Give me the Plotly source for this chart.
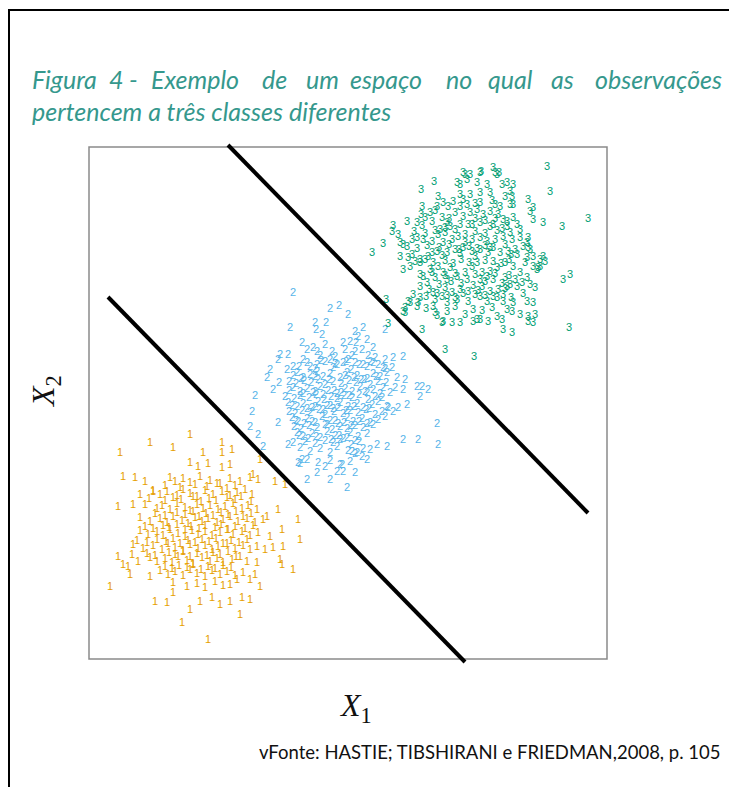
import plotly.graph_objects as go

W, H = 729, 787

# ---- observations (X1, X2) for the three classes ----
class1_x1 = [101, 61, 31, 84, 133, 133, 143, 114, 171, 34, 46, 56, 164, 169, 186, 196,
             29, 44, 51, 64, 189, 178, 209, 193, 211, 181, 194, 184, 176, 29, 43, 49,
             34, 39, 41, 21, 61, 204, 193, 191, 168, 166, 161, 171, 148, 141, 66, 78,
             84, 93, 101, 111, 123, 131, 141, 153, 161, 151, 119,
             101, 109, 119, 133, 141,
             81, 86, 94, 101, 111, 121, 131, 141, 151, 161,
             64, 71, 78, 88, 94, 101, 108, 116, 124, 133, 141, 148, 156, 163,
             56, 68, 73, 81, 88, 96, 101, 108, 114, 121, 129, 136, 144, 153, 159, 168,
             51, 61, 71, 78, 84, 93, 99, 106, 113, 119, 128, 134, 141, 149, 158, 166, 174,
             51, 59, 68, 74, 81, 89, 96, 103, 109, 116, 123, 131, 138, 144, 153, 161, 169,
             44, 54, 64, 73, 79, 86, 94, 101, 109, 116, 123, 129, 138, 146, 154, 161, 168,
             61, 68, 76, 83, 89, 98, 104, 113, 121, 128, 134, 143, 151, 158,
             71, 79, 86, 94, 101, 108, 116, 123, 131, 138, 146, 154,
             84, 98, 108, 116, 126, 134,
             76, 91, 106, 118, 128, 138, 146,
             60, 76, 84, 92, 104, 112, 120, 127, 138, 146, 152, 162,
             66, 76, 88, 96, 104, 110, 117, 124, 132, 139, 147, 154, 162,
             56, 64, 74, 80, 88, 96, 102, 110, 116, 126, 132, 139, 146, 156, 164,
             48, 58, 68, 77, 84, 91, 99, 106, 113, 120, 127, 134, 142, 150, 158,
             58, 66, 80, 86, 94, 101, 108, 118, 124, 131, 139, 147,
             76, 83, 90, 98, 104, 112, 119, 126, 134, 142]
class1_x2 = [224, 216, 206, 211, 216, 206, 209, 206, 199, 182, 181, 177, 184, 179, 177, 174,
             152, 154, 164, 167, 149, 142, 139, 129, 119, 122, 112, 111, 109, 102, 104, 97,
             94, 92, 84, 72, 82, 89, 94, 99, 96, 84, 79, 72, 79, 74, 57, 56,
             66, 36, 49, 57, 61, 54, 57, 61, 59, 44, 19,
             196, 192, 195, 191, 194,
             181, 177, 180, 176, 182, 178, 175, 180, 177, 181,
             168, 164, 167, 163, 169, 165, 162, 168, 164, 167, 163, 166, 169, 164,
             154, 150, 153, 149, 155, 151, 148, 154, 150, 153, 149, 152, 155, 150, 153, 149,
             141, 137, 140, 136, 142, 138, 135, 141, 137, 140, 136, 139, 142, 137, 140, 136, 139,
             128, 124, 127, 123, 129, 125, 122, 128, 124, 127, 123, 126, 129, 124, 127, 123, 126,
             114, 110, 113, 109, 115, 111, 108, 114, 110, 113, 109, 112, 115, 110, 113, 109, 112,
             101, 97, 100, 96, 102, 98, 95, 101, 97, 100, 96, 99, 102, 97,
             88, 84, 87, 83, 89, 85, 82, 88, 84, 87, 83, 86,
             76, 72, 75, 71, 77, 73,
             173, 171, 174, 172, 175, 170, 173,
             160, 158, 161, 159, 162, 157, 160, 158, 161, 159, 162, 157,
             145, 143, 146, 144, 147, 142, 145, 143, 146, 144, 147, 142, 145,
             132, 130, 133, 131, 134, 129, 132, 130, 133, 131, 134, 129, 132, 130, 133,
             118, 116, 119, 117, 120, 115, 118, 116, 119, 117, 120, 115, 118, 116, 119,
             105, 103, 106, 104, 107, 102, 105, 103, 106, 104, 107, 102,
             92, 90, 93, 91, 94, 89, 92, 90, 93, 91]

class2_x1 = [204, 241, 250, 259, 201, 226, 237, 227, 233, 266, 274, 269, 278, 296,
             213, 218, 224, 228, 236, 243, 254, 261, 267, 256, 266, 273, 284, 286, 296, 304, 314,
             191, 199, 189, 198, 204, 181, 178, 190, 184, 166, 163, 161, 169, 174, 189,
             214, 221, 228, 236, 241, 248, 254, 259, 266, 274, 281, 289, 294, 303,
             308, 316, 306, 314, 328, 333, 339, 331, 318, 309, 299, 304, 348, 329, 314, 349,
             298, 288, 281, 268, 263, 273, 278, 266, 258, 248, 254, 241, 253, 218, 209, 213,
             204, 199, 228, 236,
             208, 214, 221, 228, 234, 241, 251, 258, 268, 278, 284, 291, 298,
             204, 211, 218, 224, 231, 239, 248, 256, 263, 271, 278, 284, 294, 301,
             199, 208, 214, 223, 229, 238, 244, 251, 259, 268, 274, 283, 289, 298,
             203, 209, 218, 226, 233, 241, 249, 258, 264, 273, 281, 289, 296,
             208, 214, 223, 231, 238, 246, 254, 261, 269, 278,
             211, 221, 231, 241, 248, 259, 266, 274,
             211, 218, 229, 241, 251, 261,
             231, 246, 263, 279,
             210, 226, 244, 262, 278, 296,
             200, 207, 215, 222, 229, 236, 244, 252, 260, 267, 275, 281, 289, 297,
             196, 205, 211, 220, 227, 235, 242, 248, 255, 263, 270, 279, 286, 293,
             200, 206, 213, 221, 230, 236, 245, 254, 261, 269, 277, 286, 293,
             205, 212, 220, 228, 236, 243, 251, 258, 266, 274, 284,
             216, 226, 236, 244, 251, 262, 270,
             218, 232, 246, 257, 270, 284,
             204, 212, 226, 240, 256, 265, 272, 287,
             200, 214, 226, 234, 245, 252, 260, 276, 291,
             203, 218, 226, 234, 241, 249, 257, 265, 280,
             207, 215, 223, 238, 246, 255, 262, 270, 278,
             210, 219, 227, 242, 250, 258, 266]
class2_x2 = [366, 350, 353, 344, 331, 336, 336, 329, 324, 327, 331, 322, 319, 329,
             316, 309, 311, 307, 314, 307, 316, 317, 316, 309, 307, 309, 311, 301, 299, 301, 302,
             304, 304, 299, 289, 292, 289, 281, 276, 269, 263, 247, 232, 224, 212, 236,
             299, 292, 294, 297, 299, 294, 296, 299, 296, 294, 297, 294, 291, 291,
             281, 279, 271, 269, 272, 272, 269, 262, 254, 251, 251, 247, 235, 219, 219, 214,
             212, 214, 209, 206, 207, 202, 199, 186, 171, 187, 187, 179, 194, 179, 196, 199,
             216, 214, 186, 192,
             286, 281, 284, 287, 282, 285, 281, 286, 283, 280, 285, 282, 286,
             271, 267, 270, 266, 272, 268, 265, 270, 267, 272, 266, 269, 271, 266,
             256, 252, 255, 251, 257, 253, 250, 256, 252, 255, 251, 254, 257, 252,
             241, 237, 240, 236, 242, 238, 235, 241, 237, 240, 236, 239, 242,
             226, 222, 225, 221, 227, 223, 220, 226, 222, 225,
             211, 207, 210, 206, 212, 208, 205, 210,
             195, 199, 196, 198, 194, 197,
             303, 302, 303, 303,
             292, 290, 291, 289, 292, 290,
             277, 275, 278, 276, 279, 274, 277, 275, 278, 276, 279, 274, 277, 276,
             262, 260, 263, 261, 264, 259, 262, 260, 263, 261, 264, 259, 262, 261,
             247, 245, 248, 246, 249, 244, 247, 245, 248, 246, 249, 244, 247,
             232, 230, 233, 231, 234, 229, 232, 230, 233, 231, 234,
             217, 215, 218, 216, 219, 214, 217,
             296, 298, 295, 297, 294, 296,
             283, 280, 282, 279, 283, 281, 279, 282,
             268, 265, 267, 264, 268, 266, 263, 267, 265,
             253, 250, 252, 249, 253, 251, 248, 252, 250,
             238, 235, 237, 234, 238, 236, 233, 237, 235,
             223, 220, 222, 219, 223, 221, 218]

class3_x1 = [458, 461, 499, 473, 454, 444, 345, 332, 404, 406, 410, 392, 374, 283, 294,
             304, 303, 309, 318, 332, 474, 481, 480, 423, 414, 439, 446, 399, 384, 391,
             371, 363, 354, 333, 316, 321, 299, 346, 444, 454, 456, 451, 449, 439, 439,
             439, 444, 421, 423, 424, 418, 424,
             408, 376, 381, 391, 368, 413, 398, 388, 371, 378,
             349, 371, 381, 391, 401, 416, 348, 359, 354, 333, 371, 378, 391, 406, 411, 421, 441, 374,
             328, 341, 343, 353, 358, 366, 374, 381, 388, 394, 401, 409, 414, 424, 428, 431,
             351, 361, 371, 379, 391, 404, 418,
             311, 314, 323, 328, 334, 343, 349, 354, 363, 369, 376, 383, 391, 398, 406, 414, 423,
             431, 438, 441, 451, 311, 319, 331, 339, 348, 358, 366, 374, 383, 391, 401, 411, 419,
             428, 438,
             314, 321, 331, 341, 349, 354, 361, 368, 376, 383, 388, 393, 401, 408, 416, 424, 431,
             438, 444, 448, 334, 346, 358, 378, 391, 404, 416, 426,
             331, 344, 353, 363, 371, 379, 386, 393, 401, 409, 418, 428, 441, 446,
             319, 329, 346, 358, 368, 379, 391, 398, 408, 414, 424, 438, 444,
             316, 328, 348, 353, 376, 388, 408, 413, 423, 431, 439, 444, 344, 358, 384,
             331, 314, 356, 385, 297,
             325, 336, 346, 356, 366, 376, 386, 396, 408, 421,
             318, 328, 338, 350, 360, 370, 380, 388, 396, 404, 416, 426, 434,
             326, 336, 344, 356, 364, 372, 380, 396, 404, 412, 420, 436,
             338, 350, 362, 372, 384, 396, 413, 421, 433,
             324, 337, 348, 358, 366, 374, 396, 404, 414, 422, 434,
             336, 346, 360, 386, 396, 406, 418,
             337, 366, 393, 403, 418,
             364, 386, 403,
             333, 356, 383, 401, 413,
             323, 343, 353, 371, 386, 399, 422,
             331, 343, 356, 366, 386, 398, 406, 420,
             340, 356, 389, 416]
class3_x2 = [492, 467, 440, 432, 436, 439, 477, 469, 491, 486, 486, 487, 486, 406, 415,
             433, 427, 424, 437, 444, 379, 384, 331, 326, 329, 337, 344, 337, 337, 339,
             336, 336, 337, 329, 346, 356, 335, 346, 402, 402, 397, 392, 391, 421, 411,
             459, 451, 467, 462, 474, 476, 454,
             484, 484, 484, 486, 476, 474, 474, 476, 474, 479,
             462, 464, 464, 466, 466, 462, 452, 452, 456, 452, 452, 454, 456, 454, 452, 454, 447, 459,
             436, 446, 437, 441, 436, 446, 442, 446, 449, 444, 447, 444, 439, 441, 434, 429,
             429, 432, 434, 434, 436, 434, 432,
             416, 414, 419, 421, 419, 417, 424, 416, 419, 422, 416, 419, 421, 417, 419, 422, 419,
             421, 416, 409, 399, 402, 401, 399, 402, 407, 406, 409, 411, 407, 409, 411, 406, 407,
             404, 401,
             389, 392, 396, 389, 392, 386, 391, 382, 386, 392, 396, 386, 387, 391, 396, 392, 386,
             381, 392, 389, 382, 381, 379, 379, 379, 379, 381, 379,
             372, 366, 362, 366, 369, 367, 364, 372, 367, 369, 372, 372, 374, 371,
             357, 356, 359, 356, 359, 357, 362, 357, 361, 357, 356, 357, 356,
             351, 352, 343, 336, 344, 339, 342, 339, 347, 344, 342, 336, 352, 347, 349,
             361, 347, 309, 302, 359,
             427, 425, 428, 426, 429, 424, 427, 425, 428, 426,
             412, 410, 413, 411, 414, 409, 412, 410, 413, 411, 414, 409, 412,
             397, 399, 396, 398, 395, 399, 396, 398, 397, 395, 399, 396,
             376, 374, 377, 375, 373, 377, 375, 374, 376,
             364, 362, 365, 363, 361, 365, 363, 362, 364, 361, 365,
             441, 448, 440, 440, 438, 440, 437,
             350, 352, 348, 351, 349,
             457, 455, 458,
             433, 431, 434, 432, 430,
             404, 406, 403, 405, 402, 406, 404,
             384, 386, 383, 385, 384, 382, 385, 383,
             369, 371, 368, 370]

# ---- linear decision boundaries ----
upper_boundary_x1 = [139, 499]
upper_boundary_x2 = [514, 146]
lower_boundary_x1 = [19, 376]
lower_boundary_x2 = [362, -3]

class_labels = ["1", "2", "3"]
class_colors = ["#E69F00", "#56B4E9", "#009E73"]

fig = go.Figure()

classes = [(class1_x1, class1_x2), (class2_x1, class2_x2), (class3_x1, class3_x2)]
for (xs, ys), label, color in zip(classes, class_labels, class_colors):
    fig.add_trace(go.Scatter(
        x=xs, y=ys, mode="text", text=[label] * len(xs),
        textposition="middle center",
        textfont=dict(family="Liberation Sans", size=11, color=color),
        hoverinfo="skip", showlegend=False, cliponaxis=False,
    ))

for bx, by in [(upper_boundary_x1, upper_boundary_x2),
               (lower_boundary_x1, lower_boundary_x2)]:
    fig.add_trace(go.Scatter(
        x=bx, y=by, mode="lines",
        line=dict(color="black", width=4),
        hoverinfo="skip", showlegend=False,
    ))


def px(v):
    return v / W


def py(v):
    return 1 - v / H


# panel frame
fig.add_shape(type="rect", xref="x", yref="y", x0=0, y0=0, x1=518, y1=512,
              line=dict(color="#8a8a8a", width=1.5), layer="below")

# outer page frame (left and top rules)
fig.add_shape(type="line", xref="paper", yref="paper",
              x0=px(9), x1=px(9), y0=py(10), y1=py(787),
              line=dict(color="black", width=2))
fig.add_shape(type="line", xref="paper", yref="paper",
              x0=px(8), x1=px(729), y0=py(10), y1=py(10),
              line=dict(color="black", width=2))

title_color = "#35988D"
title_font = dict(family="Lato", size=25, color=title_color, style="italic")

line1_words = ["Figura", "4", "-", "Exemplo", "de", "um", "espaço", "no", "qual", "as", "observações"]
line1_left = [30, 107, 127, 149, 260, 304, 348, 444, 486, 549, 593]
for word, left in zip(line1_words, line1_left):
    fig.add_annotation(text=word, x=px(left), y=py(79), xref="paper", yref="paper",
                       xanchor="left", yanchor="middle", showarrow=False, font=title_font)

fig.add_annotation(text="pertencem a três classes diferentes", x=px(30), y=py(111),
                   xref="paper", yref="paper", xanchor="left", yanchor="middle",
                   showarrow=False, font=title_font)

# axis titles
fig.add_annotation(text="<i>X</i><sub>1</sub>", x=px(355), y=py(707),
                   xref="paper", yref="paper", xanchor="center", yanchor="middle",
                   showarrow=False,
                   font=dict(family="Liberation Serif", size=32, color="#111111"))
fig.add_annotation(text="<i>X</i><sub>2</sub>", x=px(45), y=py(392),
                   xref="paper", yref="paper", xanchor="center", yanchor="middle",
                   showarrow=False, textangle=-90,
                   font=dict(family="Liberation Serif", size=32, color="#111111"))

# source note
fig.add_annotation(text="vFonte: HASTIE; TIBSHIRANI e FRIEDMAN,2008, p. 105",
                   x=px(722), y=py(752), xref="paper", yref="paper",
                   xanchor="right", yanchor="middle", showarrow=False,
                   font=dict(family="Lato", size=18.5, color="#111111"))

fig.update_layout(
    width=W, height=H, autosize=False,
    margin=dict(l=0, r=0, t=0, b=0),
    paper_bgcolor="white", plot_bgcolor="white",
    xaxis=dict(range=[-5, 523], domain=[84 / W, 612 / W], visible=False, fixedrange=True),
    yaxis=dict(range=[-5, 517], domain=[(H - 664) / H, (H - 142) / H], visible=False,
               fixedrange=True),
)

fig.write_html("out.html")
